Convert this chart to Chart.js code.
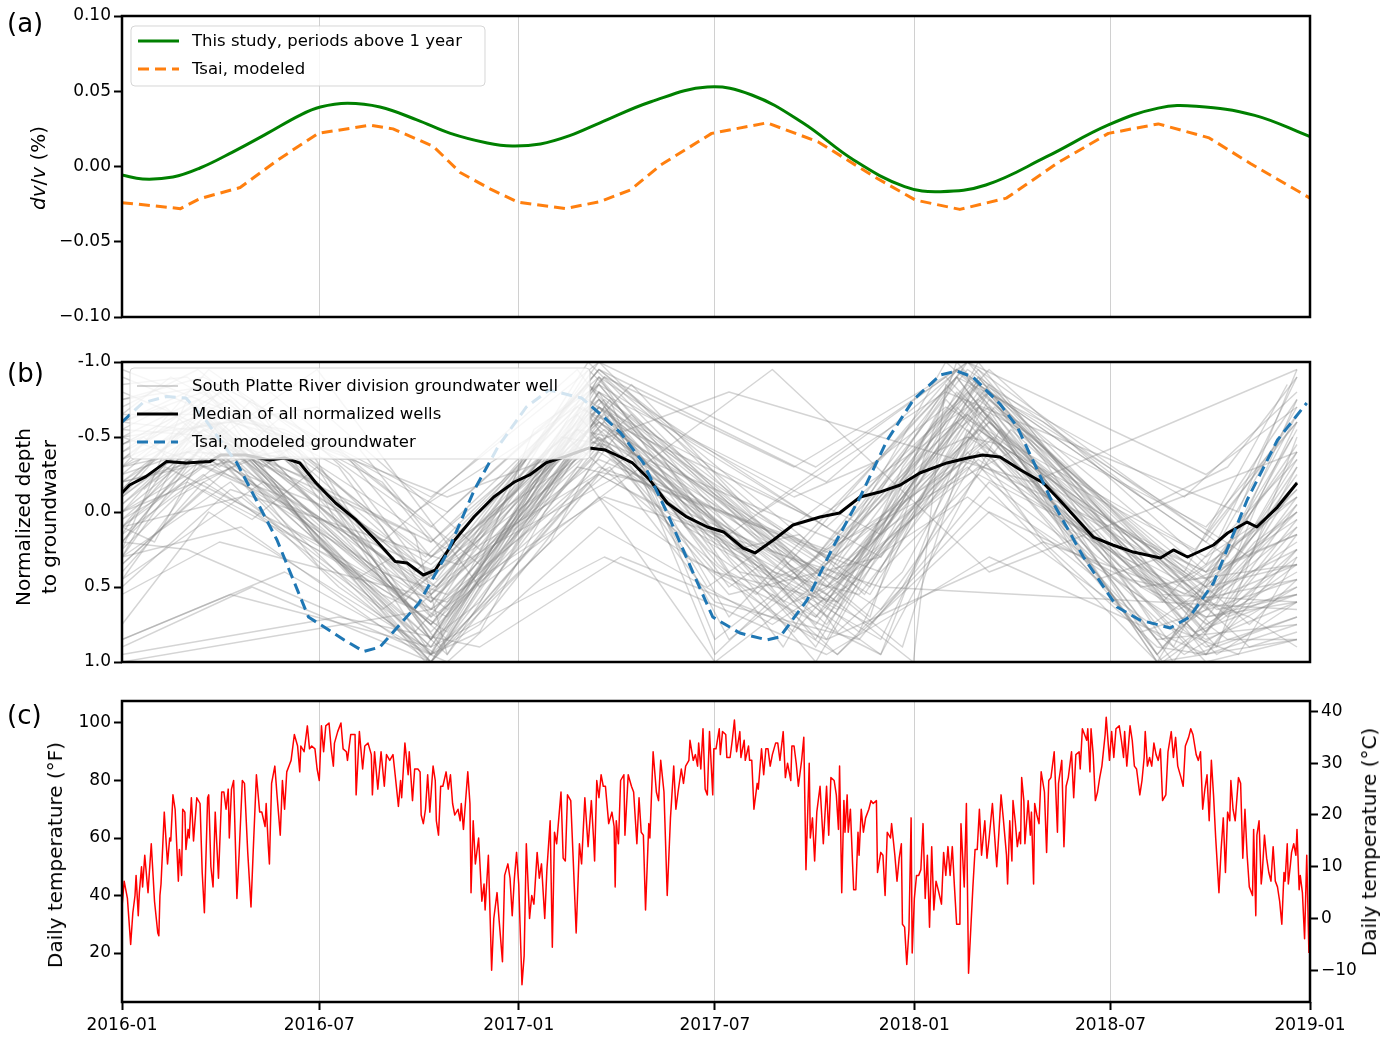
<!DOCTYPE html>
<html>
<head>
<meta charset="utf-8">
<script src="https://cdn.jsdelivr.net/npm/chart.js@4.4.1/dist/chart.umd.min.js"></script>
<style>
  html, body { margin: 0; padding: 0; background: #fff; }
  #wrap { position: relative; width: 1395px; height: 1038px; overflow: hidden; font-family: "DejaVu Sans", sans-serif; color: #000; }
  .pane { position: absolute; left: 0; width: 1395px; }
  .plabel { position: absolute; left: 7px; font-size: 26px; line-height: 30px; }
  .ytitle { position: absolute; white-space: nowrap; font-size: 20px; line-height: 26px; text-align: center;
            transform: translate(-50%, -50%) rotate(-90deg); }
  .leg { position: absolute; left: 192px; font-size: 16.5px; line-height: 20px; white-space: nowrap; z-index: 5; }
</style>
</head>
<body>
<div id="wrap">
  <div class="pane" style="top:0;height:340px"><canvas id="chartA"></canvas></div>
  <div class="pane" style="top:340px;height:340px"><canvas id="chartB"></canvas></div>
  <div class="pane" style="top:680px;height:358px"><canvas id="chartC"></canvas></div>

  <div class="plabel" style="top:8px">(a)</div>
  <div class="plabel" style="top:358px">(b)</div>
  <div class="plabel" style="top:700px">(c)</div>

  <div class="ytitle" style="left:38px;top:168px"><i>dv</i>/<i>v</i> (%)</div>
  <div class="ytitle" style="left:36px;top:517px">Normalized depth<br>to groundwater</div>
  <div class="ytitle" style="left:55px;top:855px">Daily temperature (°F)</div>
  <div class="ytitle" style="left:1369px;top:842px">Daily temperature (°C)</div>

  <div class="leg" style="top:31px">This study, periods above 1 year</div>
  <div class="leg" style="top:59px">Tsai, modeled</div>
  <div class="leg" style="top:376px">South Platte River division groundwater well</div>
  <div class="leg" style="top:404px">Median of all normalized wells</div>
  <div class="leg" style="top:432px">Tsai, modeled groundwater</div>
</div>

<script>
// ---- time axis: days since 2016-01-01 ----
const xTickDays = [0, 182, 366, 547, 731, 912, 1096];
const xTickLabels = ['2016-01', '2016-07', '2017-01', '2017-07', '2018-01', '2018-07', '2019-01'];

// ---- (a) seismic velocity change, % ----
const studyDay = [0, 19, 47, 72, 102, 134, 164, 183, 208, 238, 272, 303, 337, 360, 386, 413, 441, 488, 540, 581, 628, 675, 722, 755, 797, 853, 910, 956, 991, 1045, 1096];
const studyDvv = [-0.0056, -0.0083, -0.007, -0.001, 0.0096, 0.022, 0.034, 0.0395, 0.042, 0.0395, 0.031, 0.022, 0.0156, 0.0136, 0.015, 0.0205, 0.029, 0.043, 0.0528, 0.0475, 0.029, 0.0043, -0.0134, -0.0167, -0.0123, 0.0065, 0.0276, 0.0388, 0.040, 0.034, 0.0198];
const tsaiDay = [0, 54, 72, 109, 143, 181, 229, 250, 287, 312, 340, 365, 409, 441, 469, 497, 544, 595, 642, 694, 732, 773, 816, 863, 910, 956, 1003, 1041, 1096];
const tsaiDvv = [-0.024, -0.028, -0.0213, -0.014, 0.004, 0.022, 0.0275, 0.025, 0.0135, -0.004, -0.015, -0.0236, -0.028, -0.0233, -0.0156, 0.001, 0.022, 0.029, 0.0165, -0.0068, -0.0223, -0.0285, -0.021, 0.0023, 0.022, 0.0283, 0.019, 0.002, -0.021];
const yTicksA = [-0.10, -0.05, 0.00, 0.05, 0.10];

// ---- (b) normalized depth to groundwater ----
const medianDay = [0, 7, 22, 41, 59, 81, 91, 114, 136, 150, 164, 179, 197, 216, 234, 252, 263, 278, 289, 307, 325, 343, 362, 376, 391, 409, 431, 446, 456, 471, 487, 503, 521, 540, 555, 573, 584, 601, 619, 644, 662, 681, 699, 718, 736, 761, 780, 794, 810, 829, 850, 865, 896, 914, 933, 958, 970, 983, 1007, 1020, 1038, 1047, 1066, 1084];
const medianDepth = [-0.127, -0.18, -0.236, -0.336, -0.327, -0.336, -0.38, -0.38, -0.347, -0.36, -0.327, -0.193, -0.06, 0.053, 0.187, 0.33, 0.34, 0.42, 0.387, 0.187, 0.03, -0.1, -0.2, -0.247, -0.327, -0.37, -0.427, -0.413, -0.38, -0.327, -0.213, -0.06, 0.033, 0.1, 0.133, 0.24, 0.273, 0.187, 0.087, 0.033, 0.007, -0.1, -0.133, -0.18, -0.26, -0.327, -0.36, -0.38, -0.367, -0.28, -0.193, -0.08, 0.167, 0.22, 0.267, 0.307, 0.253, 0.3, 0.22, 0.14, 0.067, 0.1, -0.033, -0.193];
const gwModelDay = [0, 19, 41, 59, 77, 106, 143, 172, 205, 223, 238, 274, 300, 325, 347, 373, 394, 424, 445, 460, 481, 503, 527, 545, 570, 595, 607, 632, 656, 681, 706, 730, 755, 770, 785, 810, 826, 856, 887, 918, 939, 967, 985, 1007, 1038, 1066, 1093];
const gwModelDepth = [-0.60, -0.727, -0.77, -0.76, -0.613, -0.327, 0.187, 0.70, 0.853, 0.93, 0.90, 0.607, 0.273, -0.147, -0.436, -0.70, -0.813, -0.76, -0.63, -0.527, -0.327, 0.007, 0.407, 0.70, 0.807, 0.853, 0.833, 0.587, 0.233, -0.1, -0.48, -0.747, -0.913, -0.94, -0.90, -0.72, -0.567, -0.1, 0.3, 0.633, 0.72, 0.773, 0.70, 0.473, -0.08, -0.48, -0.727];
const yTicksB = [-1.0, -0.5, 0.0, 0.5, 1.0];

// individual wells: [day, normalized depth] measurements
const wellReadings = [
  [[0,-0.2],[75,-0.55],[285,0.6],[440,-0.7],[650,0.5],[800,-0.85],[1010,0.7],[1084,-0.3]],
  [[0,0.1],[90,-0.45],[300,0.95],[435,-0.6],[680,0.8],[790,-0.9],[995,0.85],[1084,0.1]],
  [[0,-0.5],[70,-0.75],[280,1.0],[430,-0.85],[640,0.3],[775,-0.95],[955,1.0],[1080,-0.5]],
  [[0,0.35],[100,-0.3],[290,0.7],[445,-0.45],[660,0.6],[805,-0.7],[1000,0.6],[1084,0.2]],
  [[0,-0.85],[60,-0.9],[240,0.2],[420,-0.95],[610,0.9],[760,-1.0],[980,0.4],[1075,-0.85]],
  [[0,0.3],[110,0.1],[285,1.0],[450,-0.35],[700,0.95],[810,-0.55],[1010,0.95],[1084,0.6]],
  [[0,-0.35],[80,-0.6],[195,0.3],[300,0.8],[440,-0.9],[560,0.4],[640,0.7],[790,-0.8],[970,0.9],[1084,-0.65]],
  [[0,0.0],[60,-0.35],[150,-0.1],[290,0.5],[420,-0.55],[520,0.0],[660,0.45],[780,-0.65],[880,0.0],[1000,0.5],[1084,0.35]],
  [[0,0.9],[120,0.5],[285,1.0],[430,-0.2],[547,1.0],[780,-0.3],[955,1.0],[1084,0.85]],
  [[0,-0.65],[45,-0.9],[200,-0.3],[270,0.4],[445,-0.75],[620,0.3],[770,-0.95],[1020,0.3],[1084,-0.75]],
  [[0,0.2],[85,-0.4],[285,0.85],[330,0.6],[440,-0.6],[600,0.15],[690,0.55],[800,-0.75],[1040,0.75],[1084,0.45]],
  [[0,-0.1],[75,-0.5],[180,-0.2],[285,0.95],[440,-0.8],[560,0.7],[770,-0.9],[960,0.9],[1084,0.0]],
  [[0,0.5],[100,-0.15],[310,0.35],[460,-0.25],[650,0.25],[820,-0.4],[1000,0.3],[1084,-0.1]],
  [[0,-0.45],[65,-0.7],[260,0.55],[440,-0.65],[730,1.0],[760,-0.85],[990,0.8],[1084,0.55]],
  [[0,0.75],[80,0.0],[280,0.9],[410,-0.5],[620,0.8],[790,-0.6],[990,0.95],[1084,0.7]],
  [[0,-0.3],[110,-0.65],[300,0.25],[440,-0.95],[650,-0.2],[780,-1.0],[1010,0.2],[1084,-0.9]],
  [[0,0.15],[40,-0.3],[180,0.2],[285,1.0],[395,0.2],[450,-0.55],[610,0.6],[800,-0.6],[1005,0.75],[1084,0.25]],
  [[0,-0.75],[90,-0.85],[300,0.0],[430,-0.85],[560,0.15],[760,-0.9],[960,0.6],[1084,-0.35]],
  [[0,0.45],[130,-0.2],[285,0.75],[470,-0.4],[700,0.65],[820,-0.55],[1040,0.9],[1084,0.8]],
  [[0,-0.05],[70,-0.45],[240,0.4],[295,0.9],[445,-0.7],[640,0.9],[775,-0.75],[955,0.95],[1084,-0.2]],
  [[0,0.3],[90,-0.6],[280,0.55],[440,-0.35],[670,0.35],[800,-0.5],[990,0.45],[1084,0.15]],
  [[0,-0.6],[75,-0.8],[285,0.7],[430,-0.95],[640,0.55],[770,-0.95],[1000,0.55],[1084,-0.55]],
  [[0,0.95],[200,0.7],[330,0.9],[460,0.3],[650,0.85],[850,0.2],[1040,0.7],[1084,0.9]],
  [[0,-0.25],[60,-0.4],[210,-0.35],[285,0.3],[440,-0.45],[600,0.5],[780,-0.35],[1000,0.4],[1084,-0.15]],
  [[0,0.05],[95,-0.55],[285,0.95],[425,-0.7],[650,0.75],[800,-0.65],[955,1.0],[1084,0.3]],
  [[0,-0.9],[120,-0.55],[290,0.5],[445,-0.9],[590,0.0],[760,-0.8],[1030,0.0],[1084,-0.95]],
  [[0,0.4],[75,-0.2],[260,0.6],[440,-0.75],[720,0.9],[790,-0.7],[980,0.6],[1084,0.45]],
  [[0,-0.15],[80,-0.7],[170,-0.45],[285,0.85],[435,-0.5],[660,0.2],[790,-0.95],[1000,0.8],[1084,0.05]],
  [[0,0.2],[60,0.25],[300,1.0],[440,0.1],[600,0.75],[780,-0.1],[980,0.95],[1084,0.5]],
  [[0,-0.4],[100,-0.75],[285,0.65],[430,-1.0],[650,0.6],[780,-0.85],[1000,0.65],[1084,-0.4]],
  [[0,0.25],[50,-0.1],[140,-0.45],[280,0.45],[400,-0.2],[470,-0.65],[640,0.4],[770,-0.7],[940,0.5],[1084,0.35]],
  [[0,-0.55],[90,-0.5],[300,0.85],[440,-0.8],[690,0.7],[770,-1.0],[1010,0.9],[1084,-0.5]],
  [[0,0.85],[150,0.4],[285,0.95],[440,-0.1],[660,0.95],[800,0.0],[1000,0.7],[1084,0.6]],
  [[0,-0.7],[70,-0.95],[280,0.3],[420,-0.7],[640,0.05],[790,-0.7],[1000,0.1],[1084,-0.6]],
  [[0,0.0],[120,-0.35],[285,0.75],[450,-0.65],[560,0.85],[790,-0.45],[955,0.85],[1084,0.75]],
  [[0,-0.2],[80,-0.65],[285,1.0],[440,-0.85],[640,0.85],[770,-0.9],[970,1.0],[1084,-0.1]],
  [[0,0.55],[90,0.2],[300,0.6],[440,-0.3],[700,0.4],[790,-0.25],[1000,0.55],[1084,0.25]],
  [[0,-0.35],[100,-0.85],[240,0.1],[285,0.6],[445,-0.6],[620,0.45],[800,-0.95],[1000,0.35],[1084,-0.7]],
  [[0,0.1],[75,-0.3],[210,-0.5],[300,0.3],[440,-0.95],[650,0.3],[770,-0.6],[960,0.55],[1084,0.6]],
  [[0,-0.1],[60,-0.6],[285,0.9],[450,-0.75],[547,0.95],[800,-0.8],[955,0.95],[1084,-0.05]],
  [[0,0.1],[110,-0.1],[270,0.8],[440,-0.55],[640,0.7],[790,-0.4],[1020,0.85],[1084,0.85]],
  [[0,-0.5],[60,-0.35],[290,0.4],[440,-0.7],[690,0.5],[790,-0.75],[1010,0.5],[1084,-0.25]],
  [[0,-0.3],[30,-0.45],[60,-0.55],[90,-0.6],[120,-0.4],[150,-0.1],[180,0.2],[210,0.4],[240,0.55],[270,0.65],[300,0.45],[330,0.1],[360,-0.2],[390,-0.4],[420,-0.55],[450,-0.5],[480,-0.2],[510,0.0],[540,0.25],[570,0.4],[600,0.45],[630,0.35],[660,0.2],[690,0.0],[720,-0.2],[750,-0.4],[780,-0.5],[810,-0.45],[840,-0.2],[870,0.1],[900,0.3],[930,0.45],[960,0.5],[990,0.4],[1020,0.25],[1050,0.1],[1084,-0.1]],
  [[0,0.2],[45,-0.2],[75,-0.45],[110,-0.2],[150,0.1],[200,0.3],[260,0.55],[300,0.7],[360,0.25],[410,-0.35],[445,-0.55],[520,-0.1],[600,0.4],[680,0.55],[740,0.0],[790,-0.55],[840,-0.3],[920,0.35],[990,0.65],[1050,0.3],[1084,0.1]],
  [[0,1.0],[285,0.65],[445,-0.1],[700,0.5],[1084,0.65]],
  [[0,-0.95],[300,-0.1],[560,-0.8],[840,-0.2],[1084,-0.95]],
  [[30,-0.2],[180,-0.95],[330,0.5],[600,-0.95],[800,0.4],[1084,-0.4]],
  [[0,0.45],[60,-0.15],[120,-0.5],[285,0.8],[350,0.3],[440,-0.65],[520,0.1],[660,0.65],[770,-0.8],[1000,0.75],[1084,0.4]],
  [[0,-0.15],[90,-0.8],[290,0.45],[440,-1.0],[640,0.45],[780,-1.0],[990,0.7],[1084,-0.3]],
  [[0,0.3],[75,-0.65],[300,0.65],[430,-0.55],[560,0.55],[700,0.3],[800,-0.6],[1010,0.65],[1084,0.55]],
  [[0,-0.8],[50,-0.65],[285,0.2],[445,-0.9],[620,-0.3],[770,-0.95],[980,-0.1],[1084,-0.8]],
  [[0,0.0],[110,-0.45],[285,0.55],[400,-0.1],[440,-0.4],[650,0.5],[790,-0.3],[980,0.55],[1084,0.05]],
  [[0,-0.2],[90,-0.35],[285,1.0],[440,-0.7],[640,1.0],[780,-0.75],[960,1.0],[1084,0.35]],
  [[0,-0.45],[120,-0.9],[270,0.0],[430,-0.75],[600,0.2],[760,-0.7],[990,0.25],[1084,-0.6]],
  [[0,0.15],[75,-0.25],[240,0.65],[300,0.35],[450,-0.3],[547,0.6],[680,0.85],[800,-0.2],[1000,0.9],[1084,0.7]],
  [[0,-0.6],[60,-0.55],[180,-0.7],[330,0.25],[440,-0.8],[700,0.15],[790,-0.85],[1040,0.3],[1084,-0.2]],
  [[0,0.85],[100,0.55],[285,0.9],[445,0.3],[650,0.95],[800,0.3],[1000,0.95],[1084,0.75]],
  [[0,-0.3],[80,-0.95],[285,0.1],[440,-0.9],[660,0.15],[780,-0.95],[1000,0.15],[1084,-0.75]],
  [[0,0.25],[60,-0.75],[285,0.95],[330,0.75],[440,-0.25],[690,0.75],[800,-0.1],[1000,0.85],[1084,0.6]],
  [[0,-0.05],[75,-0.55],[285,0.35],[440,-0.6],[650,0.7],[780,-0.5],[1000,0.45],[1084,-0.45]],
  [[0,-0.4],[20,-0.5],[45,-0.35],[70,-0.6],[95,-0.5],[130,-0.3],[160,-0.45],[200,0.1],[230,0.3],[260,0.6],[290,0.75],[320,0.4],[350,0.0],[380,-0.3],[410,-0.6],[440,-0.75],[470,-0.45],[500,-0.1],[530,0.2],[560,0.5],[590,0.35],[620,0.6],[650,0.5],[690,0.2],[720,-0.3],[750,-0.6],[780,-0.8],[810,-0.55],[850,-0.1],[880,0.3],[920,0.6],[950,0.75],[990,0.55],[1030,0.2],[1060,0.0],[1084,-0.2]],
  [[0,-0.1],[35,-0.3],[65,-0.55],[100,-0.45],[140,-0.2],[175,0.15],[215,0.45],[250,0.3],[285,0.7],[315,0.55],[345,0.2],[380,-0.2],[415,-0.45],[445,-0.65],[480,-0.3],[515,0.05],[550,0.35],[585,0.55],[620,0.3],[660,0.45],[700,0.1],[735,-0.25],[770,-0.55],[800,-0.7],[835,-0.4],[870,0.0],[905,0.25],[940,0.5],[975,0.65],[1010,0.5],[1045,0.2],[1084,0.0]],
  [[0,-0.55],[40,-0.7],[80,-0.45],[120,-0.75],[180,-0.1],[220,0.2],[285,0.85],[330,0.35],[380,-0.55],[440,-0.85],[500,-0.35],[560,0.3],[620,0.7],[680,0.45],[740,-0.5],[790,-0.9],[850,-0.35],[910,0.3],[960,0.85],[1010,0.6],[1050,-0.1],[1084,-0.6]],
  [[0,0.05],[60,-0.2],[120,0.05],[180,-0.3],[240,0.4],[300,0.55],[360,0.1],[420,-0.3],[480,-0.2],[540,0.5],[600,0.2],[660,0.8],[720,0.4],[780,-0.4],[840,0.1],[900,0.45],[960,0.3],[1020,0.7],[1084,0.5]],
  [[0,-0.25],[50,-0.55],[90,-0.3],[150,-0.65],[210,-0.25],[285,0.45],[345,0.0],[405,-0.5],[445,-0.45],[505,-0.15],[565,0.25],[625,0.15],[685,0.55],[745,-0.15],[805,-0.5],[865,-0.2],[925,0.2],[985,0.45],[1045,0.1],[1084,-0.35]],
  [[0,0.3],[100,-0.2],[200,0.5],[290,0.95],[380,0.1],[440,-0.5],[540,0.2],[640,0.6],[700,0.85],[790,-0.5],[880,0.2],[960,0.75],[1030,0.95],[1084,0.3]],
  [[0,-0.65],[70,-0.65],[150,-0.55],[240,-0.2],[285,0.2],[350,-0.2],[440,-0.95],[520,-0.5],[620,-0.1],[700,-0.35],[770,-0.9],[850,-0.6],[950,-0.05],[1020,-0.3],[1084,-0.9]],
  [[0,0.1],[30,0.2],[75,-0.4],[110,-0.3],[180,0.35],[240,0.7],[285,0.95],[330,0.8],[390,0.0],[440,-0.45],[490,-0.15],[547,0.85],[600,0.55],[660,0.95],[720,0.5],[790,-0.4],[850,0.2],[955,0.9],[1000,0.95],[1084,0.25]],
  [[0,-0.35],[80,-0.8],[120,-0.4],[285,0.4],[330,0.15],[430,-0.55],[470,-0.85],[580,0.0],[660,0.35],[760,-0.6],[800,-0.8],[920,0.1],[1000,0.4],[1084,0.15]],
  [[0,0.2],[75,-0.45],[285,0.5],[440,-0.6],[650,0.35],[790,-0.85],[1000,0.6],[1084,0.35]],
  [[0,-0.45],[75,-0.65],[285,0.75],[440,-0.75],[650,0.6],[790,-0.7],[1000,0.8],[1084,-0.05]],
  [[0,0.0],[75,-0.6],[285,0.9],[440,-0.9],[650,0.85],[790,-1.0],[1000,0.95],[1084,0.15]],
  [[0,-0.2],[75,-0.35],[285,0.6],[440,-0.5],[650,0.45],[790,-0.55],[1000,0.5],[1084,-0.15]],
  [[0,0.35],[75,-0.15],[285,0.65],[440,-0.25],[650,0.55],[790,-0.35],[1000,0.7],[1084,0.55]],
  [[0,-0.6],[75,-0.85],[285,0.3],[440,-0.85],[650,0.1],[790,-0.85],[1000,0.2],[1084,-0.65]],
  [[0,-0.3],[90,-0.45],[270,0.15],[300,0.95],[460,-0.55],[640,0.75],[780,-0.65],[1000,1.0],[1084,0.85]],
  [[0,0.1],[60,-0.4],[200,0.0],[285,0.85],[430,-0.65],[520,0.3],[700,0.95],[780,-0.55],[940,0.8],[1084,0.45]],
  [[0,-0.5],[100,-0.6],[200,-0.4],[330,0.35],[440,-0.7],[600,-0.1],[700,0.3],[800,-0.8],[900,-0.2],[1000,0.4],[1084,-0.4]],
  [[20,-0.15],[75,-0.5],[150,-0.35],[285,0.55],[420,-0.65],[547,0.4],[660,0.6],[760,-0.75],[870,0.1],[990,0.55],[1084,0.0]],
  [[0,-0.75],[75,-0.9],[285,-0.1],[440,-1.0],[640,-0.3],[780,-1.0],[1000,-0.25],[1084,-0.7]]
];

// ---- (c) daily temperature, °F ----
const tempDay = [0,2,5,8,10,12,13,15,16,18,19,21,24,27,30,33,34,35,36,39,41,42,44,45,47,49,52,53,55,56,58,59,61,62,64,66,69,72,74,76,79,80,82,84,86,89,92,94,96,98,99,101,103,106,108,111,113,116,119,121,124,127,129,132,133,135,136,138,141,143,146,148,150,152,155,156,159,162,164,165,168,171,173,175,178,180,182,184,186,188,191,193,195,196,199,202,204,207,208,211,215,216,219,222,224,227,230,231,233,236,239,242,244,247,250,252,255,257,258,261,264,265,268,270,
  273,275,276,278,280,282,284,286,287,289,290,292,294,296,299,301,303,305,307,310,312,313,315,316,319,321,322,324,326,329,332,334,335,338,341,343,346,348,351,353,356,358,360,362,364,366,369,371,373,376,378,380,383,385,387,390,392,395,397,399,401,403,405,407,409,411,414,416,419,422,424,427,430,433,435,436,438,440,442,444,446,449,452,454,455,456,458,460,463,464,467,470,472,475,477,479,481,483,486,487,490,493,495,497,500,503,506,509,511,513,516,518,520,523,524,527,529,531,532,534,536,538,540,542,545,
  546,548,551,552,554,557,558,561,563,565,567,570,571,574,575,578,579,581,583,586,587,590,592,594,596,598,600,603,605,607,610,612,614,617,618,620,622,624,627,629,631,634,635,637,639,641,644,647,650,652,654,657,659,661,662,664,666,667,669,670,672,674,675,677,679,680,682,684,686,689,691,693,696,697,700,702,704,706,709,710,713,715,717,719,720,722,724,726,728,729,731,733,735,737,739,741,743,745,747,749,751,753,756,758,760,762,764,766,768,770,773,774,777,779,781,783,785,787,789,791,793,796,798,800,803,805,807,809,811,813,816,817,
  819,821,822,824,826,828,829,830,832,833,836,838,839,841,842,844,846,848,851,853,855,857,860,863,864,867,869,871,873,876,878,880,883,884,886,888,890,891,893,894,896,898,900,902,904,907,908,911,913,915,917,920,922,924,925,927,930,932,934,936,939,941,943,944,946,948,950,952,954,956,958,960,963,965,968,970,972,974,977,979,981,984,986,988,991,993,995,997,999,1001,1003,1005,1007,1009,1012,1014,1016,1018,1020,1022,1023,1025,1027,1030,1032,1034,1036,1038,1040,1043,1044,1046,1047,1049,1051,1052,1054,1056,1058,1060,1062,1064,1066,1068,1070,1072,1073,1075,1076,1078,1079,1081,1083,1084,1086,1087,1089,1091,1093,1095];
const tempF = [36,45,39,23,34,40,47,33,41,50,43,54,41,58,38,27,26,40,44,69,57,51,60,59,75,70,45,56,47,70,69,56,63,60,74,59,74,72,48,34,74,75,50,43,69,46,76,76,70,77,60,77,80,39,54,80,79,55,36,55,82,69,69,64,72,57,51,79,85,75,61,80,70,83,86,87,96,92,83,92,90,99,91,92,91,84,80,99,90,99,100,91,85,93,97,100,91,90,87,96,96,75,97,84,92,93,89,75,90,77,90,78,89,87,89,82,71,80,74,93,82,90,73,84,
  84,83,68,65,70,82,69,80,85,80,66,61,78,78,83,77,82,72,68,70,66,72,63,68,83,72,41,66,51,60,38,44,35,54,14,32,41,31,17,47,51,46,33,46,55,44,9,19,58,32,40,37,55,46,51,32,49,66,22,62,58,67,76,53,52,75,73,55,27,58,51,74,57,73,60,52,80,74,82,78,78,65,69,64,43,66,58,80,82,61,82,78,76,58,74,62,61,35,65,60,90,76,73,87,76,40,67,85,70,76,84,79,85,87,94,87,89,85,93,84,98,77,75,97,75,
  91,91,98,89,97,96,88,88,94,101,90,97,88,94,87,92,87,87,70,79,77,91,82,91,91,85,89,93,93,87,97,81,86,80,92,92,86,78,87,95,49,86,60,67,52,69,78,58,78,61,81,80,75,63,85,41,73,62,75,62,70,51,42,42,62,54,70,62,67,70,73,72,73,48,55,54,40,62,60,65,54,45,53,58,30,29,16,28,67,20,39,47,47,49,65,39,54,29,57,35,45,42,37,55,47,57,47,57,43,30,30,65,43,72,13,28,43,56,56,70,54,66,53,60,72,61,50,62,75,67,54,44,
  66,52,73,66,57,62,58,81,73,58,73,61,69,44,72,68,65,83,76,55,80,81,90,62,79,87,57,78,81,90,74,89,90,84,98,96,94,98,83,98,89,73,76,81,85,96,102,87,97,88,98,99,94,88,97,85,99,94,85,84,75,80,88,97,85,88,85,93,89,87,91,73,75,90,97,88,95,85,81,78,92,95,98,96,89,87,90,70,77,82,66,87,75,60,41,56,67,48,69,66,80,70,66,81,79,53,70,54,43,40,63,33,61,66,44,48,61,53,48,45,57,45,43,38,30,48,45,58,44,51,55,58,54,63,42,47,41,25,54,20];
const yTicksF = [20, 40, 60, 80, 100];
const yTicksC = [-10, 0, 10, 20, 30, 40];

// ---------------------------------------------------------------
Chart.defaults.font.family = '"DejaVu Sans", sans-serif';
Chart.defaults.color = '#000';

const pts = (xs, ys) => xs.map((x, i) => ({ x: x, y: ys[i] }));
const FONT_TICK = { size: 17 };

// visual range of the temperature panel (°F) and its °C twin
const F_MIN = 2.96, F_MAX = 107.65;
const toC = f => (f - 32) / 1.8;

// frame around the plotting area and a matplotlib-like legend box
const panelDecor = {
  id: 'panelDecor',
  afterDatasetsDraw(chart, args, opts) {
    const L = opts && opts.legend;
    if (!L) return;
    const ctx = chart.ctx;
    ctx.save();
    const r = 4, x = L.x, y = L.y, w = L.w, h = L.h;
    ctx.beginPath();
    ctx.moveTo(x + r, y);
    ctx.arcTo(x + w, y, x + w, y + h, r);
    ctx.arcTo(x + w, y + h, x, y + h, r);
    ctx.arcTo(x, y + h, x, y, r);
    ctx.arcTo(x, y, x + w, y, r);
    ctx.closePath();
    ctx.fillStyle = 'rgba(255,255,255,0.8)';
    ctx.fill();
    ctx.strokeStyle = 'rgba(204,204,204,0.8)';
    ctx.lineWidth = 1;
    ctx.stroke();
    L.items.forEach(it => {
      ctx.beginPath();
      ctx.setLineDash(it.dash || []);
      ctx.strokeStyle = it.color;
      ctx.lineWidth = it.width;
      ctx.moveTo(x + 7, it.y);
      ctx.lineTo(x + 48, it.y);
      ctx.stroke();
    });
    ctx.restore();
  },
  afterDraw(chart) {
    const a = chart.chartArea, ctx = chart.ctx;
    ctx.save();
    ctx.strokeStyle = '#000';
    ctx.lineWidth = 2.5;
    ctx.strokeRect(a.left, a.top, a.right - a.left, a.bottom - a.top);
    ctx.restore();
  }
};

function timeAxis(showLabels, height) {
  return {
    type: 'linear', min: 0, max: 1096,
    afterBuildTicks: s => { s.ticks = xTickDays.map(v => ({ value: v })); },
    afterFit: s => { s.height = height; },
    border: { display: false },
    grid: { drawOnChartArea: true, color: '#d0d0d0', lineWidth: 1,
            drawTicks: showLabels, tickLength: 8, tickColor: '#000', tickWidth: 2 },
    ticks: { display: showLabels, autoSkip: false, maxRotation: 0, padding: 5, font: FONT_TICK,
             callback: (v, i) => xTickLabels[i] }
  };
}

function valueAxis(o) {
  return {
    type: 'linear',
    position: o.position || 'left',
    min: o.min, max: o.max, reverse: !!o.reverse,
    border: { display: false },
    grid: { drawOnChartArea: false, drawTicks: true, tickLength: 8, tickColor: '#000', tickWidth: 2 },
    ticks: { autoSkip: false, padding: 3, font: FONT_TICK, callback: o.fmt },
    afterBuildTicks: s => { s.ticks = o.ticks.map(v => ({ value: v })); },
    afterFit: s => { s.width = o.width; }
  };
}

const baseOptions = (padTop, padRight) => ({
  responsive: true, maintainAspectRatio: false, animation: false, events: [],
  layout: { padding: { top: padTop, right: padRight, left: 0, bottom: 0 } },
  elements: { point: { radius: 0 }, line: { borderCapStyle: 'butt', borderJoinStyle: 'round' } }
});

// ---- panel (a) ----
const optA = baseOptions(16, 85);
optA.plugins = {
  legend: { display: false }, tooltip: { enabled: false },
  panelDecor: { legend: { x: 131, y: 26, w: 354, h: 60, items: [
    { y: 41, color: '#008000', width: 3 },
    { y: 69, color: '#ff7f0e', width: 3, dash: [11, 6] }
  ] } }
};
optA.scales = {
  x: timeAxis(false, 23),
  y: valueAxis({ min: -0.1, max: 0.1, ticks: yTicksA, width: 122,
                 fmt: v => (v < -1e-9 ? '\u2212' : '') + Math.abs(v).toFixed(2) })
};
new Chart(document.getElementById('chartA'), {
  type: 'line',
  data: { datasets: [
    { label: 'This study, periods above 1 year', data: pts(studyDay, studyDvv), borderColor: '#008000',
      borderWidth: 3, tension: 0.4, order: 1 },
    { label: 'Tsai, modeled', data: pts(tsaiDay, tsaiDvv), borderColor: '#ff7f0e',
      borderWidth: 3, borderDash: [11, 6], tension: 0, order: 0 }
  ] },
  options: optA,
  plugins: [panelDecor]
});

// ---- panel (b) ----
const optB = baseOptions(22, 85);
optB.plugins = {
  legend: { display: false }, tooltip: { enabled: false },
  panelDecor: { legend: { x: 130, y: 28, w: 460, h: 91, items: [
    { y: 46, color: 'rgba(128,128,128,0.45)', width: 1.5 },
    { y: 74, color: '#000', width: 3 },
    { y: 102, color: '#1f77b4', width: 3, dash: [11, 6] }
  ] } }
};
optB.scales = {
  x: timeAxis(false, 18),
  y: valueAxis({ min: -1, max: 1, reverse: true, ticks: yTicksB, width: 122,
                 fmt: v => v.toFixed(1) })
};
const wellSets = wellReadings.map((w, i) => ({
  label: i === 0 ? 'South Platte River division groundwater well' : '',
  data: w.map(p => ({ x: p[0], y: p[1] })),
  borderColor: 'rgba(128,128,128,0.34)', borderWidth: 1.4, tension: 0, order: 2
}));
new Chart(document.getElementById('chartB'), {
  type: 'line',
  data: { datasets: [
    { label: 'Tsai, modeled groundwater', data: pts(gwModelDay, gwModelDepth), borderColor: '#1f77b4',
      borderWidth: 3, borderDash: [11, 6], tension: 0, order: 0 },
    { label: 'Median of all normalized wells', data: pts(medianDay, medianDepth), borderColor: '#000',
      borderWidth: 3, tension: 0, order: 1 }
  ].concat(wellSets) },
  options: optB,
  plugins: [panelDecor]
});

// ---- panel (c) ----
const optC = baseOptions(21, 0);
optC.plugins = { legend: { display: false }, tooltip: { enabled: false } };
optC.scales = {
  x: timeAxis(true, 36),
  y: valueAxis({ min: F_MIN, max: F_MAX, ticks: yTicksF, width: 122, fmt: v => String(v) }),
  yC: valueAxis({ position: 'right', min: toC(F_MIN), max: toC(F_MAX), ticks: yTicksC, width: 85,
                  fmt: v => (v < 0 ? '\u2212' : '') + Math.abs(v) })
};
new Chart(document.getElementById('chartC'), {
  type: 'line',
  data: { datasets: [
    { label: 'Daily temperature', data: pts(tempDay, tempF), borderColor: '#ff0000',
      borderWidth: 1.5, tension: 0, yAxisID: 'y' }
  ] },
  options: optC,
  plugins: [panelDecor]
});
</script>
</body>
</html>
